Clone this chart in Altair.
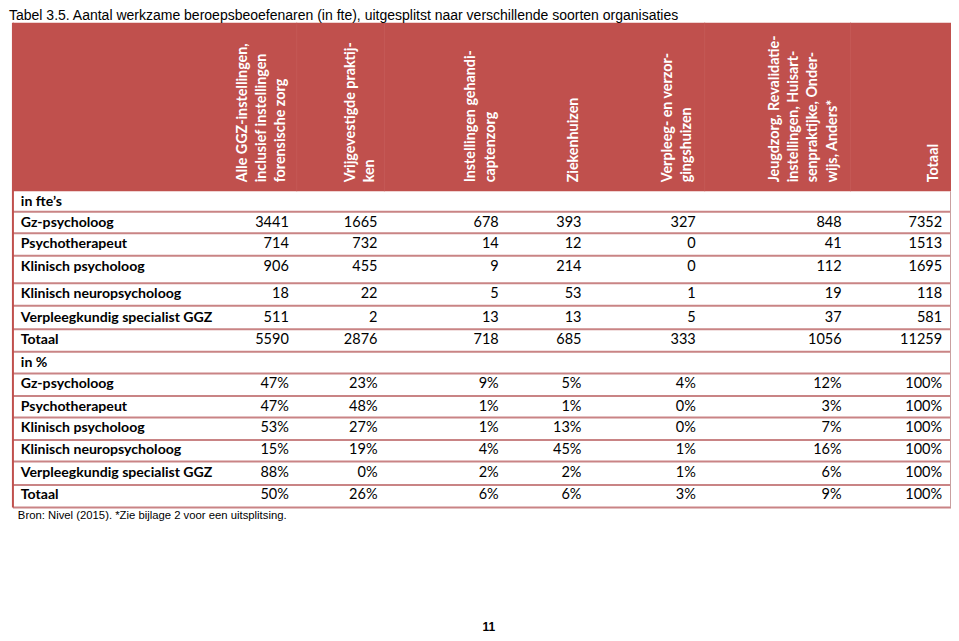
import altair as alt
import pandas as pd

# ---------------- data ----------------
title_text = "Tabel 3.5. Aantal werkzame beroepsbeoefenaren (in fte), uitgesplitst naar verschillende soorten organisaties"
footnote_text = "Bron: Nivel (2015). *Zie bijlage 2 voor een uitsplitsing."
page_number = "11"

column_headers = [
    ["Alle GGZ-instellingen,", "inclusief instellingen", "forensische zorg"],
    ["Vrijgevestigde praktij-", "ken"],
    ["Instellingen gehandi-", "captenzorg"],
    ["Ziekenhuizen"],
    ["Verpleeg- en verzor-", "gingshuizen"],
    ["Jeugdzorg, Revalidatie-", "instellingen, Huisart-", "senpraktijke, Onder-", "wijs, Anders*"],
    ["Totaal"],
]

section_fte = "in fte’s"
section_pct = "in %"

professions = ["Gz-psycholoog", "Psychotherapeut", "Klinisch psycholoog",
               "Klinisch neuropsycholoog", "Verpleegkundig specialist GGZ", "Totaal"]

fte_gz = [3441, 1665, 678, 393, 327, 848, 7352]
fte_psychotherapeut = [714, 732, 14, 12, 0, 41, 1513]
fte_klinisch = [906, 455, 9, 214, 0, 112, 1695]
fte_neuro = [18, 22, 5, 53, 1, 19, 118]
fte_vs_ggz = [511, 2, 13, 13, 5, 37, 581]
fte_totaal = [5590, 2876, 718, 685, 333, 1056, 11259]

pct_gz = [47, 23, 9, 5, 4, 12, 100]
pct_psychotherapeut = [47, 48, 1, 1, 0, 3, 100]
pct_klinisch = [53, 27, 1, 13, 0, 7, 100]
pct_neuro = [15, 19, 4, 45, 1, 16, 100]
pct_vs_ggz = [88, 0, 2, 2, 1, 6, 100]
pct_totaal = [50, 26, 6, 6, 3, 9, 100]

fte_rows = [fte_gz, fte_psychotherapeut, fte_klinisch, fte_neuro, fte_vs_ggz, fte_totaal]
pct_rows = [pct_gz, pct_psychotherapeut, pct_klinisch, pct_neuro, pct_vs_ggz, pct_totaal]

# ---------------- layout (page coordinates) ----------------
PAGE_W, PAGE_H = 957, 638
TABLE_L, TABLE_R = 5, 957
HEADER_TOP, HEADER_BOTTOM = 15, 187
LABEL_X = 13
col_right = [285, 375, 498, 582, 698, 846, 948]
col_header_center = [257.5, 357.5, 480, 574, 679.5, 807.5, 940]
col_separators = [293, 382, 707, 855]
header_line_step = 19.5
header_text_bottom = 178
row_bounds = [187, 208, 230, 253, 281, 304, 328, 351, 373, 396, 418, 441, 463, 487, 510]
row_text_y = [198, 219, 241, 264, 292, 316, 339, 362, 384, 407, 429, 451, 475, 497]

RED = "#C0504D"
FONT = "Lato"
ARIAL = "Liberation Sans"

xs = alt.Scale(domain=[0, PAGE_W], range=[0, 943])
ys = alt.Scale(domain=[0, PAGE_H], range=[0, 625])


def X(f):
    return alt.X(f, type="quantitative", scale=xs, axis=None)


def Y(f):
    return alt.Y(f, type="quantitative", scale=ys, axis=None)


# header background
header_df = pd.DataFrame([{"x": TABLE_L, "x2": TABLE_R, "y": HEADER_TOP, "y2": HEADER_BOTTOM}])
header = alt.Chart(header_df).mark_rect(color=RED).encode(
    x=X("x"), x2="x2", y=Y("y"), y2="y2")

sep_df = pd.DataFrame({"x": col_separators, "y": HEADER_TOP, "y2": HEADER_BOTTOM})
seps = alt.Chart(sep_df).mark_rule(color="#C45956", strokeWidth=1).encode(
    x=X("x"), y=Y("y"), y2="y2")

# header texts (rotated)
hdr_recs = []
for ci, lines in enumerate(column_headers):
    n = len(lines)
    for li, line in enumerate(lines):
        hdr_recs.append({"x": col_header_center[ci] + (li - (n - 1) / 2) * header_line_step,
                         "y": header_text_bottom, "t": line})
hdr_text = alt.Chart(pd.DataFrame(hdr_recs)).mark_text(
    angle=270, align="left", baseline="middle", font=FONT, fontWeight="bold",
    fontSize=14.3, color="white").encode(x=X("x"), y=Y("y"), text="t:N")

# row lines
line_df = pd.DataFrame({"y": row_bounds[1:], "x": TABLE_L, "x2": TABLE_R})
lines = alt.Chart(line_df).mark_rule(color="#C98485", strokeWidth=2).encode(
    y=Y("y"), x=X("x"), x2="x2")

border_df = pd.DataFrame([
    {"x": TABLE_L, "y": HEADER_TOP, "y2": row_bounds[-1], "c": "l"},
    {"x": TABLE_R, "y": HEADER_BOTTOM, "y2": row_bounds[-1], "c": "r"},
])
borders = alt.Chart(border_df).mark_rule(strokeWidth=2).encode(
    x=X("x"), y=Y("y"), y2="y2",
    color=alt.Color("c:N", scale=alt.Scale(domain=["l", "r"], range=[RED, "#C9A0A0"]), legend=None))

# body labels
lab_recs = [{"x": LABEL_X, "y": row_text_y[0], "t": section_fte}]
for i, p in enumerate(professions):
    lab_recs.append({"x": LABEL_X, "y": row_text_y[1 + i], "t": p})
lab_recs.append({"x": LABEL_X, "y": row_text_y[7], "t": section_pct})
for i, p in enumerate(professions):
    lab_recs.append({"x": LABEL_X, "y": row_text_y[8 + i], "t": p})
labels = alt.Chart(pd.DataFrame(lab_recs)).mark_text(
    align="left", baseline="middle", font=FONT, fontWeight="bold", fontSize=14.1,
    color="black").encode(x=X("x"), y=Y("y"), text="t:N")

num_recs = []
for ri, row in enumerate(fte_rows):
    for ci, v in enumerate(row):
        num_recs.append({"x": col_right[ci], "y": row_text_y[1 + ri], "t": str(v)})
for ri, row in enumerate(pct_rows):
    for ci, v in enumerate(row):
        num_recs.append({"x": col_right[ci], "y": row_text_y[8 + ri], "t": f"{v}%"})
nums = alt.Chart(pd.DataFrame(num_recs)).mark_text(
    align="right", baseline="middle", font=FONT, fontSize=14.5,
    color="black").encode(x=X("x"), y=Y("y"), text="t:N")

# title, footnote, page number
misc_df = pd.DataFrame([
    {"x": 1, "y": 1, "t": title_text, "k": "title"},
    {"x": 10, "y": 519, "t": footnote_text, "k": "foot"},
])
title = alt.Chart(misc_df[misc_df.k == "title"]).mark_text(
    align="left", baseline="top", font=ARIAL, fontSize=14, color="black").encode(
    x=X("x"), y=Y("y"), text="t:N")
foot = alt.Chart(misc_df[misc_df.k == "foot"]).mark_text(
    align="left", baseline="middle", font=ARIAL, fontSize=11.3, color="black").encode(
    x=X("x"), y=Y("y"), text="t:N")
page_df = pd.DataFrame([{"x": 488, "y": 632, "t": page_number}])
page = alt.Chart(page_df).mark_text(
    align="center", baseline="middle", font=ARIAL, fontWeight="bold", fontSize=12,
    color="black").encode(x=X("x"), y=Y("y"), text="t:N")

chart = alt.layer(header, seps, hdr_text, lines, borders, labels, nums, title, foot, page).properties(
    width=943, height=625, autosize=alt.AutoSizeParams(type="none"), padding=0,
    background="white"
).configure_view(stroke=None)

chart.save("out.html", embed_options={"renderer": "svg", "actions": False})
